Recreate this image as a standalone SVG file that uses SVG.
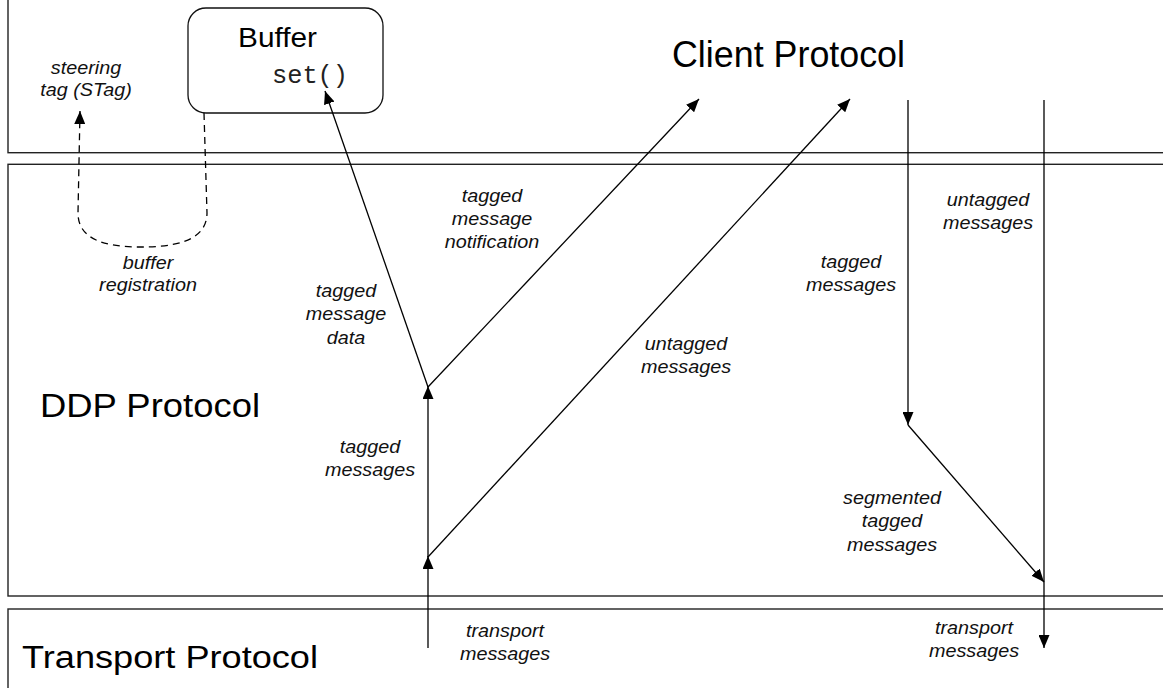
<svg xmlns="http://www.w3.org/2000/svg" width="1163" height="688" viewBox="0 0 1163 688">
  <style>
    .layer { fill: none; stroke: #222; stroke-width: 1.4; }
    .box { fill: #fff; stroke: #111; stroke-width: 1.3; }
    .title { font-family: "Liberation Sans", Arial, sans-serif; fill: #000; }
    .mono { font-family: "Liberation Mono", "Courier New", monospace; fill: #222; }
    .lbl { font-family: "Liberation Sans", Arial, sans-serif; font-style: italic; font-size: 18px; fill: #111; text-anchor: middle; }
    .conn { fill: none; stroke: #000; stroke-width: 1.3; }
    .dash { stroke-dasharray: 7 5; }
  </style>
  <defs>
    <marker id="ah" viewBox="0 0 13 11" refX="13" refY="5.5" markerWidth="13" markerHeight="11" orient="auto" markerUnits="userSpaceOnUse">
      <path d="M0,0 L13,5.5 L0,11 z" fill="#000"/>
    </marker>
  </defs>
  <rect width="1163" height="688" fill="#fff"/>

  <!-- protocol layers -->
  <g id="layer-client">
    <rect class="layer" x="8" y="-20" width="1200" height="172.7"/>
    <text class="title" x="672" y="67" font-size="36" textLength="233" lengthAdjust="spacingAndGlyphs">Client Protocol</text>
  </g>
  <g id="layer-ddp">
    <rect class="layer" x="8" y="164.3" width="1200" height="431.7"/>
    <text class="title" x="40" y="417" font-size="34" textLength="220" lengthAdjust="spacingAndGlyphs">DDP Protocol</text>
  </g>
  <g id="layer-transport">
    <rect class="layer" x="8" y="609" width="1200" height="100"/>
    <text class="title" x="22" y="668" font-size="31" textLength="296" lengthAdjust="spacingAndGlyphs">Transport Protocol</text>
  </g>

  <!-- buffer object -->
  <g id="buffer">
    <rect class="box" x="188" y="8" width="195" height="105" rx="18" ry="18"/>
    <text class="title" x="238" y="47" font-size="27" textLength="79" lengthAdjust="spacingAndGlyphs">Buffer</text>
    <text class="mono" x="272" y="83" font-size="25" textLength="76" lengthAdjust="spacingAndGlyphs">set()</text>
  </g>

  <!-- connectors -->
  <g id="connectors">
    <path class="conn dash" d="M204,113 L207,213 C207,243 170,247 140,247 C102,247 78,238 78,213 L80,111" marker-end="url(#ah)"/>
    <line class="conn" x1="428" y1="387" x2="325" y2="91" marker-end="url(#ah)"/>
    <line class="conn" x1="428" y1="387" x2="699" y2="99" marker-end="url(#ah)"/>
    <line class="conn" x1="428" y1="557" x2="428" y2="386" marker-end="url(#ah)"/>
    <line class="conn" x1="428" y1="557" x2="850" y2="99" marker-end="url(#ah)"/>
    <line class="conn" x1="428" y1="648" x2="428" y2="556" marker-end="url(#ah)"/>
    <line class="conn" x1="908" y1="100" x2="908" y2="425" marker-end="url(#ah)"/>
    <line class="conn" x1="908" y1="425" x2="1044" y2="582" marker-end="url(#ah)"/>
    <line class="conn" x1="1044" y1="100" x2="1044" y2="648" marker-end="url(#ah)"/>
  </g>

  <!-- connector labels -->
  <g id="labels">
    <text class="lbl" transform="translate(86 74) scale(1.1 1)"><tspan x="0">steering</tspan><tspan x="0" dy="22">tag (STag)</tspan></text>
    <text class="lbl" transform="translate(148 269) scale(1.1 1)"><tspan x="0">buffer</tspan><tspan x="0" dy="22">registration</tspan></text>
    <text class="lbl" transform="translate(346 297) scale(1.1 1)"><tspan x="0">tagged</tspan><tspan x="0" dy="23.5">message</tspan><tspan x="0" dy="23.5">data</tspan></text>
    <text class="lbl" transform="translate(370 453) scale(1.1 1)"><tspan x="0">tagged</tspan><tspan x="0" dy="23">messages</tspan></text>
    <text class="lbl" transform="translate(492 202) scale(1.1 1)"><tspan x="0">tagged</tspan><tspan x="0" dy="23">message</tspan><tspan x="0" dy="23">notification</tspan></text>
    <text class="lbl" transform="translate(686 350) scale(1.1 1)"><tspan x="0">untagged</tspan><tspan x="0" dy="23">messages</tspan></text>
    <text class="lbl" transform="translate(851 268) scale(1.1 1)"><tspan x="0">tagged</tspan><tspan x="0" dy="23">messages</tspan></text>
    <text class="lbl" transform="translate(988 206) scale(1.1 1)"><tspan x="0">untagged</tspan><tspan x="0" dy="23">messages</tspan></text>
    <text class="lbl" transform="translate(892 504) scale(1.1 1)"><tspan x="0">segmented</tspan><tspan x="0" dy="23.5">tagged</tspan><tspan x="0" dy="23.5">messages</tspan></text>
    <text class="lbl" transform="translate(505 637) scale(1.1 1)"><tspan x="0">transport</tspan><tspan x="0" dy="23">messages</tspan></text>
    <text class="lbl" transform="translate(974 634) scale(1.1 1)"><tspan x="0">transport</tspan><tspan x="0" dy="23">messages</tspan></text>
  </g>
</svg>
